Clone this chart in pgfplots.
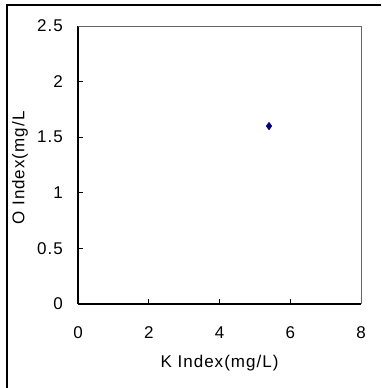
\documentclass[border=0pt]{standalone}
\usepackage{fontspec}
\setmainfont[LetterSpace=6]{Liberation Sans}
\usepackage{pgfplots}
\pgfplotsset{compat=1.18}
\begin{document}
\begin{tikzpicture}
\useasboundingbox (0,0) rectangle (381pt,388pt);
% frame around the figure
\draw[line width=1.2pt] (7pt,0) -- (7pt,383pt) -- (381pt,383pt);
\begin{axis}[
  at={(78pt,84pt)}, anchor=south west,
  scale only axis, width=283pt, height=278pt,
  xmin=0, xmax=8, ymin=0, ymax=2.5,
  xtick={0,2,4,6,8}, ytick={0,0.5,1,1.5,2,2.5},
  axis lines*=left,
  axis line style={line width=1.3pt, black},
  tick align=inside,
  major tick length=5pt,
  tick style={black, line width=0.8pt},
  /pgf/number format/assume math mode=true,
  every tick label/.append style={font=\fontsize{17}{20}\selectfont, inner sep=0pt},
  xticklabel style={anchor=center, yshift=-29pt},
  yticklabel style={anchor=east, xshift=-15pt},
  xlabel={K Index(mg/L)},
  ylabel={O Index(mg/L},
  label style={font=\fontsize{17}{20}\selectfont},
  xlabel style={at={(axis description cs:0.5,-0.212)}, anchor=center},
  ylabel style={at={(axis description cs:-0.205,0.489)}, anchor=center, rotate=0},
  clip=false,
]
\draw[gray!80!black, line width=0.9pt] (rel axis cs:0,1) -- (rel axis cs:1,1) -- (rel axis cs:1,0);
\addplot[only marks, mark=diamond*, mark size=3.8pt, color={rgb,255:red,0;green,0;blue,128}]
  coordinates {(5.4,1.6)};
\end{axis}
\end{tikzpicture}
\end{document}
